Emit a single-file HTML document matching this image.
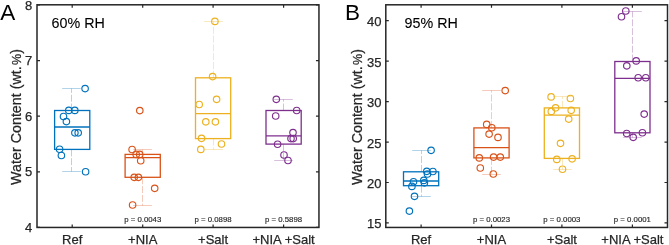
<!DOCTYPE html>
<html><head><meta charset="utf-8"><style>
html,body{margin:0;padding:0;background:#fff;}
body{width:669px;height:245px;overflow:hidden;}
svg{display:block;will-change:transform;}
.t{font-family:"Liberation Sans",sans-serif;font-size:13px;fill:#262626;stroke:#262626;stroke-width:0.25px;}
.p{font-family:"Liberation Sans",sans-serif;font-size:7.8px;fill:#262626;stroke:#262626;stroke-width:0.15px;}
.T{font-family:"Liberation Sans",sans-serif;font-size:14.3px;fill:#262626;stroke:#262626;stroke-width:0.25px;}
.L{font-family:"Liberation Sans",sans-serif;font-size:22.5px;fill:#000;}
</style></head><body>
<svg width="669" height="245" viewBox="0 0 669 245">
<rect width="669" height="245" fill="#fff"/>
<path d="M71.5 110.5V88.5M71.5 149.4V171.5" stroke="#0072BD" stroke-opacity="0.3" stroke-width="1" stroke-dasharray="7 1.8" fill="none"/>
<path d="M62.2 88.5H80.8M62.2 171.5H80.8" stroke="#0072BD" stroke-opacity="0.3" stroke-width="1" fill="none"/>
<rect x="54.6" y="110.5" width="35.2" height="38.9" stroke="#0072BD" stroke-width="1.3" fill="none"/>
<path d="M54.6 127H89.8" stroke="#0072BD" stroke-width="1.3" fill="none"/>
<circle cx="85.1" cy="88.6" r="3.25" stroke="#0072BD" stroke-width="1.15" fill="none"/>
<circle cx="68.8" cy="110.4" r="3.25" stroke="#0072BD" stroke-width="1.15" fill="none"/>
<circle cx="74.8" cy="110.4" r="3.25" stroke="#0072BD" stroke-width="1.15" fill="none"/>
<circle cx="63.5" cy="116.5" r="3.25" stroke="#0072BD" stroke-width="1.15" fill="none"/>
<circle cx="66.4" cy="121.6" r="3.25" stroke="#0072BD" stroke-width="1.15" fill="none"/>
<circle cx="74.9" cy="132.8" r="3.25" stroke="#0072BD" stroke-width="1.15" fill="none"/>
<circle cx="78.2" cy="132.8" r="3.25" stroke="#0072BD" stroke-width="1.15" fill="none"/>
<circle cx="59.6" cy="149.2" r="3.25" stroke="#0072BD" stroke-width="1.15" fill="none"/>
<circle cx="61.4" cy="155.5" r="3.25" stroke="#0072BD" stroke-width="1.15" fill="none"/>
<circle cx="85.6" cy="171.7" r="3.25" stroke="#0072BD" stroke-width="1.15" fill="none"/>
<path d="M142.5 154.4V149.5M142.5 177.3V205.5" stroke="#D95319" stroke-opacity="0.3" stroke-width="1" stroke-dasharray="7 1.8" fill="none"/>
<path d="M133.2 149.5H151.8M133.2 205.5H151.8" stroke="#D95319" stroke-opacity="0.3" stroke-width="1" fill="none"/>
<rect x="125.1" y="154.4" width="35.2" height="22.9" stroke="#D95319" stroke-width="1.3" fill="none"/>
<path d="M125.1 157.6H160.3" stroke="#D95319" stroke-width="1.3" fill="none"/>
<circle cx="139.8" cy="110.6" r="3.25" stroke="#D95319" stroke-width="1.15" fill="none"/>
<circle cx="132.1" cy="149.5" r="3.25" stroke="#D95319" stroke-width="1.15" fill="none"/>
<circle cx="136.2" cy="154.4" r="3.25" stroke="#D95319" stroke-width="1.15" fill="none"/>
<circle cx="139.7" cy="154.4" r="3.25" stroke="#D95319" stroke-width="1.15" fill="none"/>
<circle cx="140.7" cy="160.7" r="3.25" stroke="#D95319" stroke-width="1.15" fill="none"/>
<circle cx="134.2" cy="177.3" r="3.25" stroke="#D95319" stroke-width="1.15" fill="none"/>
<circle cx="138.4" cy="177.3" r="3.25" stroke="#D95319" stroke-width="1.15" fill="none"/>
<circle cx="154.7" cy="188.3" r="3.25" stroke="#D95319" stroke-width="1.15" fill="none"/>
<circle cx="132.6" cy="205" r="3.25" stroke="#D95319" stroke-width="1.15" fill="none"/>
<path d="M213.5 77.8V21.5M213.5 138.6V149.5" stroke="#EDB120" stroke-opacity="0.3" stroke-width="1" stroke-dasharray="7 1.8" fill="none"/>
<path d="M204.2 21.5H222.8M204.2 149.5H222.8" stroke="#EDB120" stroke-opacity="0.3" stroke-width="1" fill="none"/>
<rect x="195.5" y="77.8" width="35.2" height="60.8" stroke="#EDB120" stroke-width="1.3" fill="none"/>
<path d="M195.5 113.7H230.7" stroke="#EDB120" stroke-width="1.3" fill="none"/>
<circle cx="214.9" cy="21.4" r="3.25" stroke="#EDB120" stroke-width="1.15" fill="none"/>
<circle cx="212.6" cy="76.6" r="3.25" stroke="#EDB120" stroke-width="1.15" fill="none"/>
<circle cx="216.6" cy="99.3" r="3.25" stroke="#EDB120" stroke-width="1.15" fill="none"/>
<circle cx="199.2" cy="104.5" r="3.25" stroke="#EDB120" stroke-width="1.15" fill="none"/>
<circle cx="205.8" cy="121.8" r="3.25" stroke="#EDB120" stroke-width="1.15" fill="none"/>
<circle cx="215.4" cy="121.8" r="3.25" stroke="#EDB120" stroke-width="1.15" fill="none"/>
<circle cx="201.5" cy="138.3" r="3.25" stroke="#EDB120" stroke-width="1.15" fill="none"/>
<circle cx="221.5" cy="144" r="3.25" stroke="#EDB120" stroke-width="1.15" fill="none"/>
<circle cx="200.8" cy="149.4" r="3.25" stroke="#EDB120" stroke-width="1.15" fill="none"/>
<path d="M283.5 110.5V99.5M283.5 144.1V160.5" stroke="#7E2F8E" stroke-opacity="0.3" stroke-width="1" stroke-dasharray="7 1.8" fill="none"/>
<path d="M274.2 99.5H292.8M274.2 160.5H292.8" stroke="#7E2F8E" stroke-opacity="0.3" stroke-width="1" fill="none"/>
<rect x="266" y="110.5" width="35.2" height="33.6" stroke="#7E2F8E" stroke-width="1.3" fill="none"/>
<path d="M266 135.8H301.2" stroke="#7E2F8E" stroke-width="1.3" fill="none"/>
<circle cx="276.3" cy="99.3" r="3.25" stroke="#7E2F8E" stroke-width="1.15" fill="none"/>
<circle cx="296.7" cy="110.5" r="3.25" stroke="#7E2F8E" stroke-width="1.15" fill="none"/>
<circle cx="275.7" cy="116" r="3.25" stroke="#7E2F8E" stroke-width="1.15" fill="none"/>
<circle cx="293" cy="132.6" r="3.25" stroke="#7E2F8E" stroke-width="1.15" fill="none"/>
<circle cx="291" cy="138.6" r="3.25" stroke="#7E2F8E" stroke-width="1.15" fill="none"/>
<circle cx="293.2" cy="138.6" r="3.25" stroke="#7E2F8E" stroke-width="1.15" fill="none"/>
<circle cx="277.6" cy="144.2" r="3.25" stroke="#7E2F8E" stroke-width="1.15" fill="none"/>
<circle cx="284" cy="155" r="3.25" stroke="#7E2F8E" stroke-width="1.15" fill="none"/>
<circle cx="288" cy="160.5" r="3.25" stroke="#7E2F8E" stroke-width="1.15" fill="none"/>
<rect x="37" y="4.8" width="281.95" height="222.65" stroke="#262626" stroke-width="1.5" fill="none"/>
<path d="M37 5h3.0M318.95 5h-3.0M37 60.6h3.0M318.95 60.6h-3.0M37 116.2h3.0M318.95 116.2h-3.0M37 171.8h3.0M318.95 171.8h-3.0M37 227.4h3.0M318.95 227.4h-3.0M72.2 227.45v-3.0M72.2 4.8v3.0M142.7 227.45v-3.0M142.7 4.8v3.0M213.1 227.45v-3.0M213.1 4.8v3.0M283.6 227.45v-3.0M283.6 4.8v3.0" stroke="#262626" stroke-width="1.2" fill="none"/>
<text x="32.2" y="9.5" text-anchor="end" class="t">8</text>
<text x="32.2" y="65.1" text-anchor="end" class="t">7</text>
<text x="32.2" y="120.7" text-anchor="end" class="t">6</text>
<text x="32.2" y="176.3" text-anchor="end" class="t">5</text>
<text x="32.2" y="231.9" text-anchor="end" class="t">4</text>
<text x="72.2" y="244.3" text-anchor="middle" class="t">Ref</text>
<text x="142.7" y="244.3" text-anchor="middle" class="t">+NIA</text>
<text x="213.1" y="244.3" text-anchor="middle" class="t">+Salt</text>
<text x="283.6" y="244.3" text-anchor="middle" class="t">+NIA +Salt</text>
<text x="142.7" y="222" text-anchor="middle" class="p">p = 0.0043</text>
<text x="213.1" y="222" text-anchor="middle" class="p">p = 0.0898</text>
<text x="283.6" y="222" text-anchor="middle" class="p">p = 0.5898</text>
<text x="51.6" y="27.8" class="T" style="fill:#000;stroke:#000;stroke-width:0.1px">60% RH</text>
<text x="0.2" y="19.5" class="L">A</text>
<text transform="translate(20.8 117) rotate(-90)" text-anchor="middle" class="T">Water Content (wt.<tspan dx="1.3" font-size="12.5">%</tspan>)</text>
<path d="M421.5 171.8V150.5M421.5 185.7V196.5" stroke="#0072BD" stroke-opacity="0.3" stroke-width="1" stroke-dasharray="7 1.8" fill="none"/>
<path d="M412.2 150.5H430.8M412.2 196.5H430.8" stroke="#0072BD" stroke-opacity="0.3" stroke-width="1" fill="none"/>
<rect x="403.5" y="171.8" width="35.2" height="13.9" stroke="#0072BD" stroke-width="1.3" fill="none"/>
<path d="M403.5 181H438.7" stroke="#0072BD" stroke-width="1.3" fill="none"/>
<circle cx="431.1" cy="150.3" r="3.25" stroke="#0072BD" stroke-width="1.15" fill="none"/>
<circle cx="426.8" cy="171.3" r="3.25" stroke="#0072BD" stroke-width="1.15" fill="none"/>
<circle cx="427.5" cy="174" r="3.25" stroke="#0072BD" stroke-width="1.15" fill="none"/>
<circle cx="432.9" cy="171.5" r="3.25" stroke="#0072BD" stroke-width="1.15" fill="none"/>
<circle cx="423.8" cy="180.4" r="3.25" stroke="#0072BD" stroke-width="1.15" fill="none"/>
<circle cx="424.4" cy="182.8" r="3.25" stroke="#0072BD" stroke-width="1.15" fill="none"/>
<circle cx="413.5" cy="181.7" r="3.25" stroke="#0072BD" stroke-width="1.15" fill="none"/>
<circle cx="411.9" cy="186.4" r="3.25" stroke="#0072BD" stroke-width="1.15" fill="none"/>
<circle cx="414.5" cy="196.3" r="3.25" stroke="#0072BD" stroke-width="1.15" fill="none"/>
<circle cx="409.4" cy="211.1" r="3.25" stroke="#0072BD" stroke-width="1.15" fill="none"/>
<path d="M491.5 127.9V90.5M491.5 157.9V174.5" stroke="#D95319" stroke-opacity="0.3" stroke-width="1" stroke-dasharray="7 1.8" fill="none"/>
<path d="M482.2 90.5H500.8M482.2 174.5H500.8" stroke="#D95319" stroke-opacity="0.3" stroke-width="1" fill="none"/>
<rect x="473.9" y="127.9" width="35.2" height="30" stroke="#D95319" stroke-width="1.3" fill="none"/>
<path d="M473.9 147.6H509.1" stroke="#D95319" stroke-width="1.3" fill="none"/>
<circle cx="505.2" cy="90.6" r="3.25" stroke="#D95319" stroke-width="1.15" fill="none"/>
<circle cx="486.7" cy="124.4" r="3.25" stroke="#D95319" stroke-width="1.15" fill="none"/>
<circle cx="491.8" cy="127.7" r="3.25" stroke="#D95319" stroke-width="1.15" fill="none"/>
<circle cx="489.1" cy="134.1" r="3.25" stroke="#D95319" stroke-width="1.15" fill="none"/>
<circle cx="498" cy="137.4" r="3.25" stroke="#D95319" stroke-width="1.15" fill="none"/>
<circle cx="479.3" cy="157.9" r="3.25" stroke="#D95319" stroke-width="1.15" fill="none"/>
<circle cx="493.6" cy="157.1" r="3.25" stroke="#D95319" stroke-width="1.15" fill="none"/>
<circle cx="500.3" cy="157.1" r="3.25" stroke="#D95319" stroke-width="1.15" fill="none"/>
<circle cx="480.3" cy="168" r="3.25" stroke="#D95319" stroke-width="1.15" fill="none"/>
<circle cx="493.3" cy="174" r="3.25" stroke="#D95319" stroke-width="1.15" fill="none"/>
<path d="M562.5 107.9V96.5M562.5 158.4V169.5" stroke="#EDB120" stroke-opacity="0.3" stroke-width="1" stroke-dasharray="7 1.8" fill="none"/>
<path d="M553.2 96.5H571.8M553.2 169.5H571.8" stroke="#EDB120" stroke-opacity="0.3" stroke-width="1" fill="none"/>
<rect x="544.3" y="107.9" width="35.2" height="50.5" stroke="#EDB120" stroke-width="1.3" fill="none"/>
<path d="M544.3 115.1H579.5" stroke="#EDB120" stroke-width="1.3" fill="none"/>
<circle cx="551.1" cy="96.9" r="3.25" stroke="#EDB120" stroke-width="1.15" fill="none"/>
<circle cx="570.4" cy="98.5" r="3.25" stroke="#EDB120" stroke-width="1.15" fill="none"/>
<circle cx="555.6" cy="107.8" r="3.25" stroke="#EDB120" stroke-width="1.15" fill="none"/>
<circle cx="551.3" cy="111.4" r="3.25" stroke="#EDB120" stroke-width="1.15" fill="none"/>
<circle cx="571.2" cy="110.3" r="3.25" stroke="#EDB120" stroke-width="1.15" fill="none"/>
<circle cx="568.7" cy="119.1" r="3.25" stroke="#EDB120" stroke-width="1.15" fill="none"/>
<circle cx="560.5" cy="143.3" r="3.25" stroke="#EDB120" stroke-width="1.15" fill="none"/>
<circle cx="556.8" cy="159.4" r="3.25" stroke="#EDB120" stroke-width="1.15" fill="none"/>
<circle cx="572.1" cy="158.8" r="3.25" stroke="#EDB120" stroke-width="1.15" fill="none"/>
<circle cx="562.5" cy="169.2" r="3.25" stroke="#EDB120" stroke-width="1.15" fill="none"/>
<path d="M632.5 61.5V11.5M632.5 132.8V137.5" stroke="#7E2F8E" stroke-opacity="0.3" stroke-width="1" stroke-dasharray="7 1.8" fill="none"/>
<path d="M623.2 11.5H641.8M623.2 137.5H641.8" stroke="#7E2F8E" stroke-opacity="0.3" stroke-width="1" fill="none"/>
<rect x="614.8" y="61.5" width="35.2" height="71.3" stroke="#7E2F8E" stroke-width="1.3" fill="none"/>
<path d="M614.8 78.3H650" stroke="#7E2F8E" stroke-width="1.3" fill="none"/>
<circle cx="625.8" cy="11" r="3.25" stroke="#7E2F8E" stroke-width="1.15" fill="none"/>
<circle cx="621.5" cy="16.7" r="3.25" stroke="#7E2F8E" stroke-width="1.15" fill="none"/>
<circle cx="636.2" cy="60.9" r="3.25" stroke="#7E2F8E" stroke-width="1.15" fill="none"/>
<circle cx="626.8" cy="65.8" r="3.25" stroke="#7E2F8E" stroke-width="1.15" fill="none"/>
<circle cx="638.2" cy="77.7" r="3.25" stroke="#7E2F8E" stroke-width="1.15" fill="none"/>
<circle cx="645.8" cy="77.7" r="3.25" stroke="#7E2F8E" stroke-width="1.15" fill="none"/>
<circle cx="644.2" cy="114.1" r="3.25" stroke="#7E2F8E" stroke-width="1.15" fill="none"/>
<circle cx="626.7" cy="133.5" r="3.25" stroke="#7E2F8E" stroke-width="1.15" fill="none"/>
<circle cx="642.4" cy="132.7" r="3.25" stroke="#7E2F8E" stroke-width="1.15" fill="none"/>
<circle cx="633.2" cy="137.3" r="3.25" stroke="#7E2F8E" stroke-width="1.15" fill="none"/>
<rect x="385.8" y="4.8" width="281.7" height="222.65" stroke="#262626" stroke-width="1.5" fill="none"/>
<path d="M385.8 20.7h3.0M667.5 20.7h-3.0M385.8 61.15h3.0M667.5 61.15h-3.0M385.8 101.6h3.0M667.5 101.6h-3.0M385.8 142.05h3.0M667.5 142.05h-3.0M385.8 182.5h3.0M667.5 182.5h-3.0M385.8 222.95h3.0M667.5 222.95h-3.0M421.1 227.45v-3.0M421.1 4.8v3.0M491.5 227.45v-3.0M491.5 4.8v3.0M561.9 227.45v-3.0M561.9 4.8v3.0M632.4 227.45v-3.0M632.4 4.8v3.0" stroke="#262626" stroke-width="1.2" fill="none"/>
<text x="381.4" y="26.2" text-anchor="end" class="t">40</text>
<text x="381.4" y="66.65" text-anchor="end" class="t">35</text>
<text x="381.4" y="107.1" text-anchor="end" class="t">30</text>
<text x="381.4" y="147.55" text-anchor="end" class="t">25</text>
<text x="381.4" y="188" text-anchor="end" class="t">20</text>
<text x="381.4" y="228.45" text-anchor="end" class="t">15</text>
<text x="421.1" y="244.3" text-anchor="middle" class="t">Ref</text>
<text x="491.5" y="244.3" text-anchor="middle" class="t">+NIA</text>
<text x="561.9" y="244.3" text-anchor="middle" class="t">+Salt</text>
<text x="632.4" y="244.3" text-anchor="middle" class="t">+NIA +Salt</text>
<text x="491.5" y="222" text-anchor="middle" class="p">p = 0.0023</text>
<text x="561.9" y="222" text-anchor="middle" class="p">p = 0.0003</text>
<text x="632.4" y="222" text-anchor="middle" class="p">p = 0.0001</text>
<text x="404.6" y="27.8" class="T" style="fill:#000;stroke:#000;stroke-width:0.1px">95% RH</text>
<text x="344.9" y="19.5" class="L">B</text>
<text transform="translate(362.4 117) rotate(-90)" text-anchor="middle" class="T">Water Content (wt.<tspan dx="1.3" font-size="12.5">%</tspan>)</text>
</svg>
</body></html>
